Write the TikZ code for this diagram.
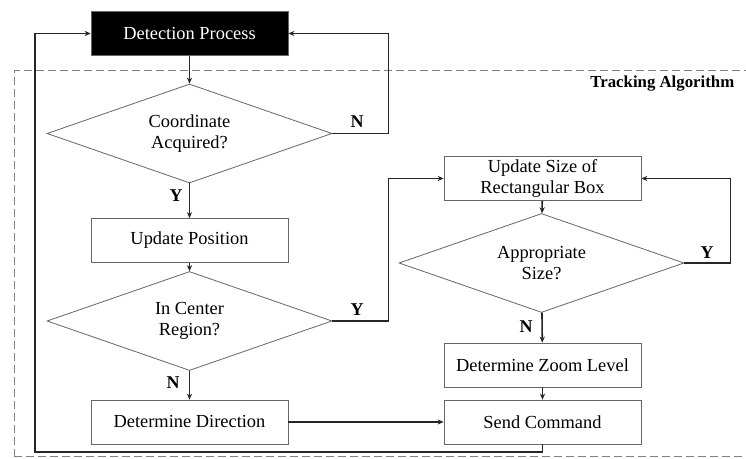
\documentclass[tikz,border=0pt]{standalone}
\usepackage{fontspec}
\setmainfont{Liberation Serif}
\usetikzlibrary{shapes.geometric,arrows.meta}

\begin{document}
\begin{tikzpicture}[x=0.5pt,y=-0.5pt,
  txt/.style={font=\fontsize{9.2}{10.6}\selectfont},
  box/.style={txt,draw=black!60,line width=0.4pt,minimum width=98.5pt,minimum height=22pt,inner sep=1pt,align=center},
  decision/.style={txt,diamond,draw=black!60,line width=0.4pt,minimum width=142.5pt,minimum height=49.5pt,aspect=2.9,inner sep=0pt,align=center},
  yn/.style={font=\fontsize{9}{11}\selectfont\bfseries},
  conn/.style={draw=black!85,line width=0.8pt,-{Stealth[length=3pt,width=2.6pt]}},
  frame/.style={draw=black!50,line width=0.5pt,dash pattern=on 4pt off 2pt}]

\useasboundingbox[fill=white] (0,0) rectangle (746,459);

% tracking frame
\draw[frame] (14,457) -- (14,71) -- (760,71);
\draw[frame] (14,457) -- (760,457);
\node[yn,font=\fontsize{8.4}{10}\selectfont\bfseries,anchor=west,inner sep=0pt] (title) at (590,84) {Tracking Algorithm};

\node[box,fill=black,text=white] (det) at (189.5,33.5) {Detection Process};
\node[decision] (q1) at (189.5,133.5) {Coordinate\\Acquired?};
\node[box] (pos) at (189.5,240.5) {Update Position};
\node[decision] (q2) at (189.5,321) {In Center\\Region?};
\node[box] (dir) at (189.5,422) {Determine Direction};

\node[box] (size) at (542.5,178.5) {Update Size of\\Rectangular Box};
\node[decision] (q3) at (541.5,263) {Appropriate\\Size?};
\node[box] (zoom) at (542.5,365) {Determine Zoom Level};
\node[box] (send) at (542.5,422) {Send Command};

\node[yn] (n1) at (357,122) {N};
\node[yn] (y1) at (176,196) {Y};
\node[yn] (y2) at (357,310) {Y};
\node[yn] (n2) at (173,383) {N};
\node[yn] (y3) at (707,253) {Y};
\node[yn] (n3) at (526,327) {N};

\coordinate (lb) at (35,452);

\draw[conn] (det) -- (q1);
\draw[conn] (q1) -- (pos);
\draw[conn] (pos) -- (q2);
\draw[conn] (q2) -- (dir);
\draw[conn] (q1.east) -- ++(56,0) |- (det.east);
\draw[conn] (q2.east) -- ++(56,0) |- (size.west);
\draw[conn] (size) -- (q3);
\draw[conn] (q3.east) -- ++(46,0) |- (size.east);
\draw[conn] (q3) -- (zoom);
\draw[conn] (zoom) -- (send);
\draw[conn] (dir) -- (send);
\draw[conn] (send.south) |- (lb) |- (det.west);
\end{tikzpicture}
\end{document}
